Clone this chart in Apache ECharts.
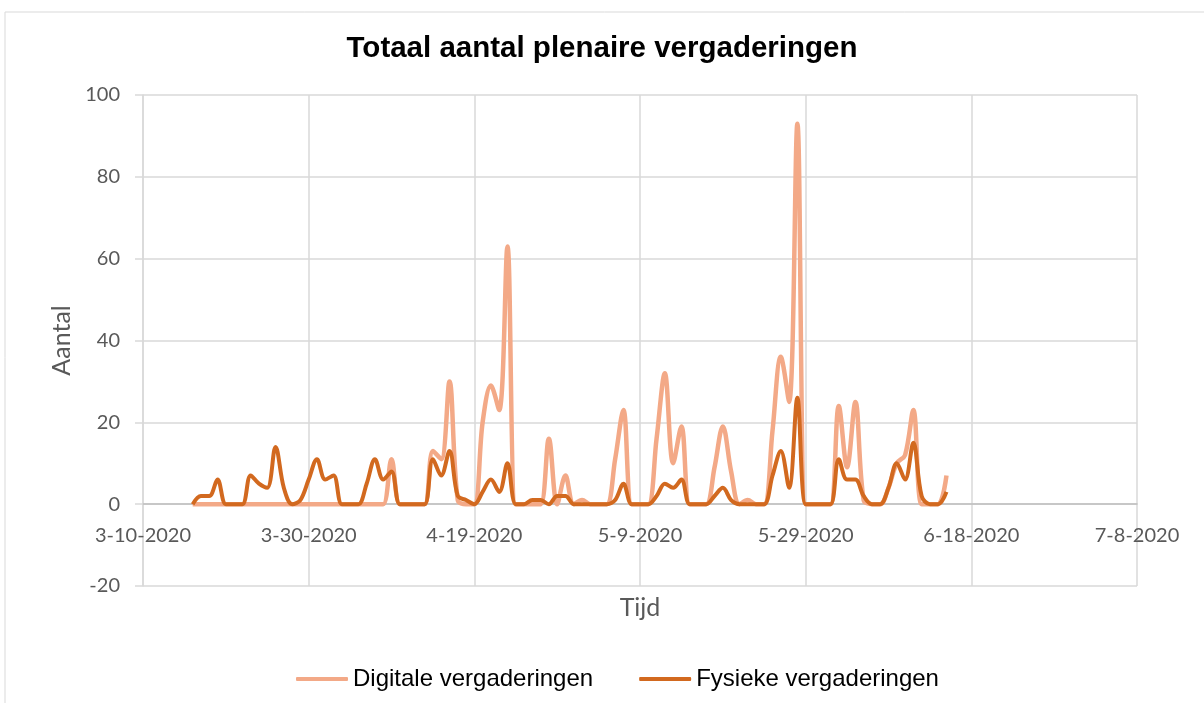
<!DOCTYPE html>
<html>
<head>
<meta charset="utf-8">
<script src="https://cdn.jsdelivr.net/npm/echarts@6/dist/echarts.min.js"></script>
<style>
html,body{margin:0;padding:0;background:#fff;}
#c{width:1204px;height:703px;}
</style>
</head>
<body>
<div id="c"></div>
<script>
const dates = [
'3-16-2020','3-17-2020','3-18-2020','3-19-2020','3-20-2020','3-21-2020','3-22-2020','3-23-2020','3-24-2020','3-25-2020',
'3-26-2020','3-27-2020','3-28-2020','3-29-2020','3-30-2020','3-31-2020',
'4-1-2020','4-2-2020','4-3-2020','4-4-2020','4-5-2020','4-6-2020','4-7-2020','4-8-2020','4-9-2020','4-10-2020',
'4-11-2020','4-12-2020','4-13-2020','4-14-2020','4-15-2020','4-16-2020','4-17-2020','4-18-2020','4-19-2020','4-20-2020',
'4-21-2020','4-22-2020','4-23-2020','4-24-2020','4-25-2020','4-26-2020','4-27-2020','4-28-2020','4-29-2020','4-30-2020',
'5-1-2020','5-2-2020','5-3-2020','5-4-2020','5-5-2020','5-6-2020','5-7-2020','5-8-2020','5-9-2020','5-10-2020',
'5-11-2020','5-12-2020','5-13-2020','5-14-2020','5-15-2020','5-16-2020','5-17-2020','5-18-2020','5-19-2020','5-20-2020',
'5-21-2020','5-22-2020','5-23-2020','5-24-2020','5-25-2020','5-26-2020','5-27-2020','5-28-2020','5-29-2020','5-30-2020',
'5-31-2020','6-1-2020','6-2-2020','6-3-2020','6-4-2020','6-5-2020','6-6-2020','6-7-2020','6-8-2020','6-9-2020',
'6-10-2020','6-11-2020','6-12-2020','6-13-2020','6-14-2020','6-15-2020'
];
const digitale = [
0,0,0,0,0,0,0,0,0,0,
0,0,0,0,0,0,
0,0,0,0,0,0,0,0,11,0,
0,0,0,13,11,30,1,0,0,20,
29,23,63,0,0,0,0,16,0,7,
0,1,0,0,0,11,23,0,0,0,
16,32,10,19,0,0,0,9,19,8,
0,1,0,0,18,36,25,93,0,0,
0,0,24,9,25,1,0,0,4,10,
12,23,0,0,0,7
];
const fysieke = [
0,2,2,6,0,0,0,7,5,4,
14,4,0,1,6,11,
6,7,0,0,0,5,11,6,8,0,
0,0,0,11,7,13,2,1,0,3,
6,3,10,0,0,1,1,0,2,2,
0,0,0,0,0,1,5,0,0,0,
2,5,4,6,0,0,0,2,4,1,
0,0,0,0,7,13,4,26,0,0,
0,0,11,6,6,2,0,0,4,10,
6,15,2,0,0,3
];
const xTickLabels = ['3-10-2020','3-30-2020','4-19-2020','5-9-2020','5-29-2020','6-18-2020','7-8-2020'];
const axisStartDate = '3-10-2020';
const yMin = -20, yMax = 100, yStep = 20;
const xStep = 20;

function dayNum(s){
  const p = s.split('-').map(Number);
  return Date.UTC(p[2], p[0]-1, p[1]) / 86400000;
}
const d0 = dayNum(axisStartDate);
const xs = dates.map(d => dayNum(d) - d0);
const xMax = dayNum(xTickLabels[xTickLabels.length-1]) - d0;

const W = 1204, H = 703;
const gridTop = 95, gridBottom = 117;
const plotH = H - gridTop - gridBottom;
// place horizontal axis on the value 0 (Excel style)
const zeroOffset = -plotH * (0 - yMin) / (yMax - yMin);

const chart = echarts.init(document.getElementById('c'), null, {renderer:'canvas'});
const axisFont = 'Lato, "Open Sans", sans-serif';
chart.setOption({
  animation: false,
  backgroundColor: '#fff',
  graphic: [{
    type: 'polyline',
    shape: {points: [[5,703],[5,12],[1204,12]]},
    style: {stroke: '#D9D9D9', lineWidth: 1, fill: null},
    silent: true
  }],
  title: {
    text: 'Totaal aantal plenaire vergaderingen',
    left: 'center',
    top: 29,
    textStyle: {fontFamily: '"Liberation Sans", Arial, sans-serif', fontWeight: 'bold', fontSize: 29.5, color: '#000'}
  },
  legend: {
    top: 662,
    left: 291,
    itemWidth: 52,
    itemHeight: 4,
    itemGap: 46,
    icon: 'roundRect',
    textStyle: {fontFamily: '"Liberation Sans", Arial, sans-serif', fontSize: 24, color: '#000'},
    data: ['Digitale vergaderingen', 'Fysieke vergaderingen']
  },
  grid: {left: 143, right: 67, top: gridTop, bottom: gridBottom, containLabel: false},
  xAxis: {
    type: 'value',
    min: 0,
    max: xMax,
    interval: xStep,
    position: 'bottom',
    offset: zeroOffset,
    name: 'Tijd',
    nameLocation: 'middle',
    nameGap: 91,
    nameTextStyle: {fontFamily: axisFont, fontSize: 25, color: '#595959'},
    axisLine: {onZero: false, lineStyle: {color: '#BFBFBF', width: 1.5}},
    axisTick: {show: false},
    splitLine: {show: true, lineStyle: {color: '#D9D9D9', width: 1.5}},
    axisLabel: {
      fontFamily: axisFont, fontSize: 20, color: '#595959', margin: 21,
      formatter: v => xTickLabels[Math.round(v / xStep)] || ''
    }
  },
  yAxis: {
    type: 'value',
    min: yMin,
    max: yMax,
    interval: yStep,
    name: 'Aantal',
    nameLocation: 'middle',
    nameGap: 68,
    nameTextStyle: {fontFamily: axisFont, fontSize: 25, color: '#595959'},
    axisLine: {show: true, lineStyle: {color: '#D9D9D9', width: 1.5}},
    axisTick: {show: true, length: 8, lineStyle: {color: '#D9D9D9', width: 1.5}},
    splitLine: {show: true, lineStyle: {color: '#D9D9D9', width: 1.5}},
    axisLabel: {fontFamily: axisFont, fontSize: 20, color: '#595959', margin: 23}
  },
  series: [
    {
      name: 'Digitale vergaderingen',
      type: 'line',
      smooth: 0.35,
      showSymbol: false,
      data: xs.map((x, i) => [x, digitale[i]]),
      lineStyle: {color: '#F3A987', width: 4.5},
      itemStyle: {color: '#F3A987'},
      z: 2
    },
    {
      name: 'Fysieke vergaderingen',
      type: 'line',
      smooth: 0.35,
      showSymbol: false,
      data: xs.map((x, i) => [x, fysieke[i]]),
      lineStyle: {color: '#D2691F', width: 4},
      itemStyle: {color: '#D2691F'},
      z: 3
    }
  ]
});
</script>
</body>
</html>
